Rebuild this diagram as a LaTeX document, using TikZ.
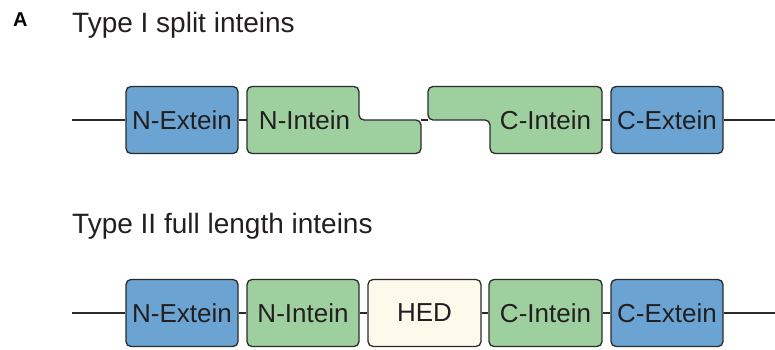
\documentclass[tikz,border=0pt]{standalone}
\usepackage{fontspec}
\setmainfont{Liberation Sans}
\definecolor{exblue}{HTML}{6BA4D2}
\definecolor{ingreen}{HTML}{9DD09E}
\definecolor{hedcream}{HTML}{FDF9EB}
\definecolor{edge}{HTML}{2B2B2B}
\definecolor{txt}{HTML}{231F20}
\begin{document}
\begin{tikzpicture}[x=1pt,y=-1pt,
  box/.style={draw=edge, line width=1.3pt, rounded corners=5pt,
    minimum width=112pt, minimum height=67pt, inner sep=0pt,
    font=\fontsize{26}{30}\selectfont, text=txt},
  shapeline/.style={draw=edge, line width=1.3pt, rounded corners=5pt},
  lbl/.style={inner sep=0pt, font=\fontsize{26}{30}\selectfont, text=txt},
  title/.style={inner sep=0pt, anchor=base west, font=\fontsize{28}{32}\selectfont, text=txt},
  conn/.style={draw=edge, line width=1.3pt}]
\useasboundingbox (0,0) rectangle (775,350);

% panel letter and titles
\node[inner sep=0pt, anchor=base west, font=\fontsize{20}{24}\selectfont\bfseries, text=black] (panelA) at (13,26.7) {A};
\node[title] (t1) at (72,33) {Type I split inteins};
\node[title] (t2) at (72,233) {Type II full length inteins};

% ---- Type I row ----
\coordinate (L1) at (72,120);
\coordinate (R1) at (775,120);
\node[box, fill=exblue] (NExt1) at (182,120) {N-Extein};
\path[shapeline, fill=ingreen] (300,86.5) -- (359,86.5) -- (359,120) -- (421,120) -- (421,153.5) -- (247,153.5) -- (247,86.5) -- cycle;
\node[lbl] (NInt1) at (304.5,120) {N-Intein};
\coordinate (NInt1w) at (247,120);
\coordinate (NInt1e) at (421,120);
\path[shapeline, fill=ingreen] (520,86.5) -- (602,86.5) -- (602,153.5) -- (490,153.5) -- (490,120) -- (428,120) -- (428,86.5) -- cycle;
\node[lbl] (CInt1) at (545.5,120) {C-Intein};
\coordinate (CInt1w) at (428,120);
\coordinate (CInt1e) at (602,120);
\node[box, fill=exblue] (CExt1) at (667,120) {C-Extein};

\draw[conn] (L1) -- (NExt1.west);
\draw[conn] (NExt1.east) -- (NInt1w);
\draw[conn] (NInt1e) -- (CInt1w);
\draw[conn] (CInt1e) -- (CExt1.west);
\draw[conn] (CExt1.east) -- (R1);

% ---- Type II row ----
\coordinate (L2) at (72,313);
\coordinate (R2) at (775,313);
\node[box, fill=exblue] (NExt2) at (182,313) {N-Extein};
\node[box, fill=ingreen] (NInt2) at (303,313) {N-Intein};
\node[box, fill=hedcream, minimum width=113pt] (HED) at (424.5,313) {HED};
\node[box, fill=ingreen, minimum width=113pt] (CInt2) at (545.5,313) {C-Intein};
\node[box, fill=exblue] (CExt2) at (667,313) {C-Extein};

\draw[conn] (L2) -- (NExt2.west);
\draw[conn] (NExt2.east) -- (NInt2.west);
\draw[conn] (NInt2.east) -- (HED.west);
\draw[conn] (HED.east) -- (CInt2.west);
\draw[conn] (CInt2.east) -- (CExt2.west);
\draw[conn] (CExt2.east) -- (R2);
\end{tikzpicture}
\end{document}
